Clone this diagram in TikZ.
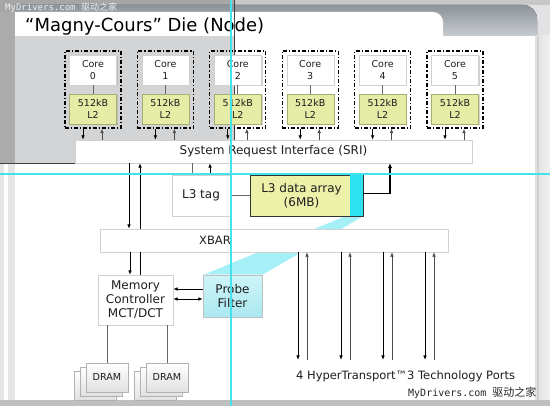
\documentclass[tikz,border=0pt]{standalone}
\usepackage{fontspec}
\setmainfont{DejaVu Sans}
\newfontfamily\wmmono{DejaVu Sans Mono}
\newfontfamily\cjk{Noto Sans CJK SC}
\usetikzlibrary{arrows.meta,shadows,calc}
\definecolor{bggray}{RGB}{226,226,228}
\definecolor{ovgray}{RGB}{211,212,214}
\definecolor{hdrtop}{RGB}{140,147,153}
\definecolor{hdrbot}{RGB}{200,204,207}
\definecolor{l2fill}{RGB}{228,236,166}
\definecolor{l2line}{RGB}{168,174,112}
\definecolor{l3fill}{RGB}{236,240,168}
\definecolor{cystrip}{RGB}{44,226,238}
\definecolor{pftop}{RGB}{206,244,248}
\definecolor{pfbot}{RGB}{170,232,240}
\definecolor{beamc}{RGB}{150,238,246}
\definecolor{guide}{RGB}{70,226,236}
\definecolor{txt}{RGB}{30,30,30}
\tikzset{
  shad/.style={drop shadow={shadow xshift=1.3pt, shadow yshift=-1.3pt, fill=black!35}},
  corebox/.style={draw=black!18, fill=white, minimum width=47pt, minimum height=30pt,
    inner sep=0pt, align=center, text=txt, font=\fontsize{9.5}{12}\selectfont, shad},
  l2box/.style={corebox, draw=l2line, fill=l2fill},
  grpbox/.style={draw=black, line width=1.3pt, dash pattern=on 4pt off 2pt on 1.2pt off 2pt,
    minimum width=56pt, minimum height=77pt, inner sep=0pt},
  bigbox/.style={draw=black!18, fill=white, inner sep=0pt, align=center, text=txt,
    font=\fontsize{12}{14}\selectfont, shad},
  drambox/.style={draw=black!30, top color=white, bottom color=black!12, minimum width=42pt,
    minimum height=29pt, inner sep=0pt, text=txt, font=\fontsize{9.6}{12}\selectfont,
    drop shadow={shadow xshift=1pt, shadow yshift=-1pt, fill=black!30}},
  arr/.style={-{Latex[length=4.5pt,width=3.6pt]}, line width=0.8pt, draw=black},
  darr/.style={{Latex[length=4.5pt,width=3.6pt]}-{Latex[length=4.5pt,width=3.6pt]}, line width=0.8pt, draw=black},
  thinl/.style={line width=0.7pt, draw=black!60},
  thickarr/.style={-{Latex[length=5pt,width=4.5pt]}, line width=1.8pt, draw=black},
}
\begin{document}
\begin{tikzpicture}[x=1pt,y=-1pt]
\useasboundingbox (0,0) rectangle (550,406);
% ---------- background ----------
\fill[bggray] (0,0) rectangle (550,406);
\fill[black!35] (0,0) rectangle (234,12);
\fill[black!22] (234,0) rectangle (550,5);
\fill[black!33] (0,12) rectangle (15,163);
\fill[black!10] (0,163) rectangle (15,400);
\fill[white] (4,163) rectangle (8,400);
% header band with rounded top-right corner
\fill[top color=hdrtop, bottom color=hdrbot] (15,36) -- (15,5) -- (523,5)
   arc[start angle=90, end angle=0, radius=14pt] -- (537,36) -- cycle;
% right side strip
\fill[left color=black!12, right color=black!6] (535,36) rectangle (550,400);
\fill[black!18] (537,36) rectangle (539,400);
% faded top watermark
\node[anchor=base west, text=white, opacity=0.85, inner sep=0pt] (wmtop) at (5,10.5)
   {\wmmono\fontsize{9}{10}\selectfont MyDrivers.com \cjk 驱动之家};
% white title tab
\fill[white] (15,36) -- (15,12) -- (433,12)
   arc[start angle=90, end angle=0, radius=10pt] -- (443,36) -- cycle;
% body
\fill[white] (15,36) rectangle (535,400);
\fill[ovgray] (15,36) rectangle (234,163);
\fill[black!25] (0,400) rectangle (550,406);
\draw[black!75, line width=0.8pt] (0,163) -- (234,163) -- (234,0);
% title
\node[anchor=base west, inner sep=0pt, text=black, font=\fontsize{18}{20}\selectfont] (title)
   at (25,32) {“Magny-Cours” Die (Node)};
% ---------- diagram ----------
\node[bigbox, minimum width=397pt, minimum height=23pt] (sri) at (273.5,151.5)
   {System Request Interface (SRI)};
% cores
\foreach \i in {0,...,5}{
  \pgfmathsetmacro{\cx}{93+72.4*\i}
  \node[corebox] (core\i) at (\cx,70) {Core\\\i};
  \node[l2box] (l2\i) at (\cx,109) {512kB\\L2};
  \draw[thinl] (core\i.south) -- (l2\i.north);
  \node[grpbox] (grp\i) at (\cx,89.5) {};
  \draw[arr] ([xshift=-10pt]grp\i.south) -- ([xshift=-10pt]grp\i.south |- sri.north);
  \draw[arr, draw=black!70, line width=0.6pt] ([xshift=9pt]grp\i.south |- sri.north) -- ([xshift=9pt]grp\i.south);
}
% L3 data array and beam towards the probe filter
\node[bigbox, minimum width=113pt, minimum height=41pt, fill=l3fill, draw=black!80] (l3d) at (306.5,195.5) {};
\coordinate (pfnw) at (203,275);
\coordinate (pfne) at (262,275);
\fill[beamc, opacity=0.85] ([xshift=-18pt]l3d.south east) -- (l3d.south east) -- (pfne) -- (pfnw) -- cycle;
\node[bigbox, minimum width=348pt, minimum height=23pt] (xbar) at (274,240.5) {};
\node[text=txt, font=\fontsize{11.5}{14}\selectfont, inner sep=0pt] (xbarlabel) at (215,240.5) {XBAR};
\node[bigbox, minimum width=59pt, minimum height=42pt, top color=pftop, bottom color=pfbot, draw=black!25]
   (pf) at (232.5,296) {Probe\\Filter};
% L3
\node[bigbox, minimum width=58pt, minimum height=41pt] (l3t) at (201,195.5) {L3 tag};
\fill[cystrip] ([xshift=-13pt]l3d.north east) rectangle (l3d.south east);
\draw[black!80, line width=0.6pt] (l3d.north west) rectangle (l3d.south east);
\node[text=txt, align=center, font=\fontsize{12}{14}\selectfont, inner sep=0pt] (l3dtext) at (301.5,195.5) {L3 data array\\(6MB)};
\draw[thinl] (l3t.east) -- (l3d.west);
\draw[thinl] ([xshift=-9pt]l3t.north) -- ([xshift=-9pt]l3t.north |- sri.south);
\draw[arr] ([xshift=9pt]l3t.north) -- ([xshift=9pt]l3t.north |- sri.south);
\draw[thickarr] ([yshift=2pt]l3d.east) -| ([xshift=116.5pt]sri.south);
% SRI <-> XBAR
\draw[arr] ([xshift=-144.5pt]sri.south) -- ([xshift=-144.5pt]sri.south |- xbar.north);
\draw[arr] ([xshift=-133.5pt]sri.south |- xbar.north) -- ([xshift=-133.5pt]sri.south);
% memory controller
\node[bigbox, minimum width=75pt, minimum height=50pt] (mc) at (135.5,300)
   {Memory\\Controller\\MCT/DCT};
\draw[arr] ([xshift=-5.5pt]mc.north |- xbar.south) -- ([xshift=-5.5pt]mc.north);
\draw[thinl, draw=black] ([xshift=4.5pt]mc.north) -- ([xshift=4.5pt]mc.north |- xbar.south);
\draw[arr] ([yshift=7pt]pf.west) -- ([yshift=7pt]pf.west -| mc.east);
\draw[darr] ([yshift=-3pt]pf.west) -- ([yshift=-3pt]pf.west -| mc.east);
% DRAM stacks
\foreach \k/\dx in {1/0,2/60}{
  \node[drambox] (dram\k c) at (95+\dx,385.5) {};
  \node[drambox] (dram\k b) at (101+\dx,381.5) {};
  \node[drambox] (dram\k) at (107+\dx,377.5) {DRAM};
  \draw[thinl] (dram\k.north |- mc.south) -- (dram\k.north);
}
% HyperTransport ports
\foreach \j/\hx in {1/298,2/341,3/383,4/425}{
  \coordinate (htd\j) at (\hx,360);
  \coordinate (htu\j) at (\hx+9,360);
  \draw[arr] (htd\j |- xbar.south) -- (htd\j);
  \draw[arr, draw=black!70, line width=0.6pt] (htu\j) -- (htu\j |- xbar.south);
}
\node[anchor=base west, inner sep=0pt, text=txt, font=\fontsize{11.5}{14}\selectfont] (htlabel)
   at (296,380) {4 HyperTransport™3 Technology Ports};
% bottom watermark
\node[anchor=base west, inner sep=0pt, text=black!85] (wm) at (408,397)
   {\wmmono\fontsize{10}{12}\selectfont MyDrivers.com \cjk\fontsize{11}{12}\selectfont 驱动之家};
% guide lines
\fill[guide] (230,0) rectangle (232,406);
\fill[guide] (0,173) rectangle (550,175);
\end{tikzpicture}
\end{document}
